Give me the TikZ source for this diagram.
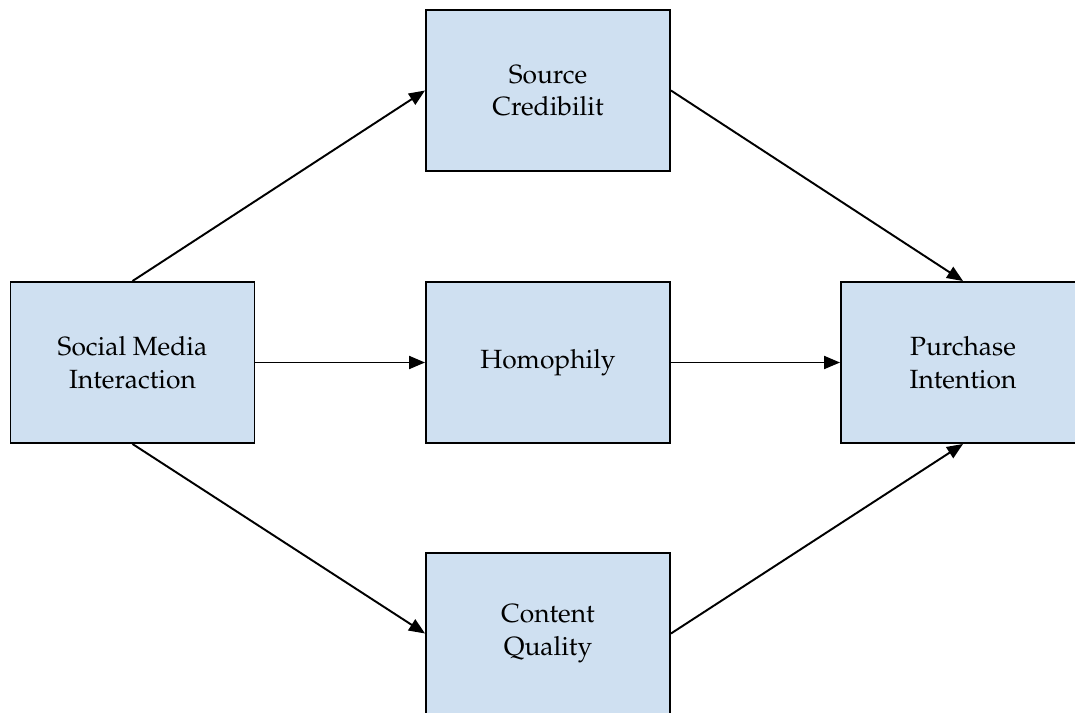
\documentclass[tikz,border=0pt]{standalone}
\usepackage[T1]{fontenc}
\usepackage{mathpazo}
\usepackage{tikz}
\usetikzlibrary{arrows.meta}

\definecolor{boxblue}{RGB}{207,224,241}

\tikzset{
  box/.style={draw=black, line width=1.1pt, fill=boxblue, minimum width=4.88cm,
    minimum height=3.22cm, align=center, font=\fontsize{15}{18.5}\selectfont, inner sep=0pt},
  link/.style={line width=1.1pt, -{Triangle[length=0.32cm, width=0.26cm]}}
}

\begin{document}
\begin{tikzpicture}[>=Stealth]

\clip (0,0) rectangle (21.5,-14.26);

\node[box] (social) at (2.65,-7.25) {Social Media\\Interaction};
\node[box] (source) at (10.96,-1.81) {Source\\Credibilit};
\node[box] (homophily) at (10.96,-7.25) {Homophily};
\node[box] (content) at (10.96,-12.67) {Content\\Quality};
\node[box] (purchase) at (19.26,-7.25) {Purchase\\Intention};

% into the middle column
\draw[link] (social.north) -- (source.west);
\draw[link] (social.east) -- (homophily.west);
\draw[link] (social.south) -- (content.west);

% into purchase intention
\draw[link] (source.east) -- (purchase.north);
\draw[link] (homophily.east) -- (purchase.west);
\draw[link] (content.east) -- (purchase.south);

\end{tikzpicture}
\end{document}
